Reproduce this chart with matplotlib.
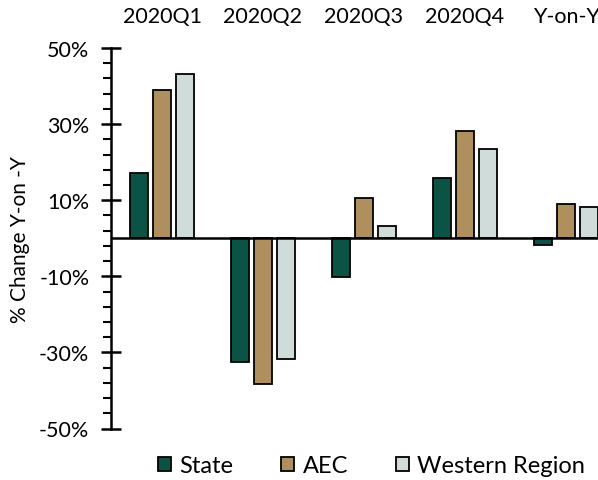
import matplotlib
matplotlib.use("Agg")
import matplotlib.pyplot as plt
import numpy as np
from matplotlib.ticker import MultipleLocator, FuncFormatter

categories = ["2020Q1", "2020Q2", "2020Q3", "2020Q4", "Y-on-Y"]
series_names = ["State", "AEC", "Western Region"]
state = [17.1, -32.5, -10.2, 15.9, -1.8]
aec = [39.0, -38.2, 10.5, 28.2, 8.9]
western = [43.2, -31.8, 3.3, 23.5, 8.3]
colors = ["#0B5345", "#B08F5F", "#CFDCDA"]

plt.rcParams["font.family"] = ["Lato", "DejaVu Sans"]

fig = plt.figure(figsize=(5.98, 4.81), dpi=100)
W, H = 598, 481
ax_left, ax_right = 111.5, 616.5
ax_top, ax_bot = 49, 429.5
ax = fig.add_axes([ax_left / W, 1 - ax_bot / H, (ax_right - ax_left) / W, (ax_bot - ax_top) / H])

x = np.arange(len(categories))
bw = 0.18
step = 0.225
for i, (vals, name, c) in enumerate(zip([state, aec, western], series_names, colors)):
    ax.bar(x + (i - 1) * step, vals, width=bw, color=c, edgecolor="black",
           linewidth=1.3, label=name, zorder=2)

ax.set_xlim(-0.5, len(categories) - 0.5)
ax.set_ylim(-50, 50)
ax.axhline(0, color="black", linewidth=1.8, zorder=3)

for s in ["top", "right", "bottom"]:
    ax.spines[s].set_visible(False)
ax.spines["left"].set_linewidth(1.8)

ax.set_yticks([-50, -30, -10, 10, 30, 50])
ax.yaxis.set_minor_locator(MultipleLocator(4, offset=2))
ax.yaxis.set_major_formatter(FuncFormatter(lambda v, p: f"{v:.0f}%"))
ax.tick_params(axis="y", which="major", direction="inout", length=14, width=1.8,
               labelsize=15.5, pad=9)
ax.tick_params(axis="y", which="minor", direction="out", length=6, width=1.5)

ax.set_xticks(x)
ax.set_xticklabels(categories)
ax.tick_params(axis="x", which="both", length=0, labelsize=15.5, top=True,
               labeltop=True, bottom=False, labelbottom=False, pad=16)

ax.set_ylabel("% Change Y-on -Y", fontsize=15)
ax.yaxis.set_label_coords((30 - ax_left) / (ax_right - ax_left), 0.5)

leg = fig.legend(loc="center", bbox_to_anchor=(371.5 / W, 1 - 467 / H), ncol=3,
                 frameon=False, fontsize=17, handlelength=0.55, handleheight=0.55,
                 handletextpad=0.38, columnspacing=2.0)

fig.savefig("out.png", dpi=100)
